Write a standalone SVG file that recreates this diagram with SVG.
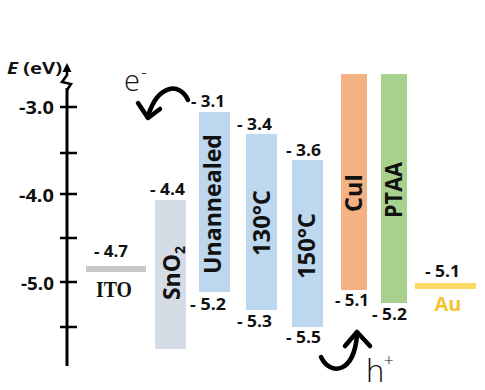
<svg xmlns="http://www.w3.org/2000/svg" width="485" height="390" viewBox="0 0 485 390">
<style>
.val{font-family:"Open Sans","Liberation Sans",sans-serif;font-weight:700;font-size:15.5px;fill:#111}
.ax{font-family:"Open Sans","Liberation Sans",sans-serif;font-weight:700;font-size:17px;fill:#111}
.lbl{font-family:"Open Sans","Liberation Sans",sans-serif;font-weight:700;font-size:23px;fill:#111}
.car{font-family:"Open Sans","Liberation Sans",sans-serif;font-weight:300;fill:#111}
.tick{stroke:#000;stroke-width:2.5}
.arr{fill:none;stroke:#000;stroke-width:4.5;stroke-linecap:round;stroke-linejoin:round}
</style>
<rect width="485" height="390" fill="#fff"/>
<g id="axis">
<line x1="67" y1="88" x2="67" y2="366" stroke="#000" stroke-width="3"/>
<polyline points="67,70 67,75 62,82 71,84 67,90" fill="none" stroke="#000" stroke-width="2.5" stroke-linejoin="miter"/>
<polygon points="67,63 62.5,72 71.5,72" fill="#000"/>
<line class="tick" x1="60" y1="107" x2="77" y2="107"/>
<line class="tick" x1="60" y1="153" x2="77" y2="153"/>
<line class="tick" x1="60" y1="194" x2="77" y2="194"/>
<line class="tick" x1="60" y1="238" x2="77" y2="238"/>
<line class="tick" x1="60" y1="282" x2="77" y2="282"/>
<line class="tick" x1="60" y1="327" x2="77" y2="327"/>
<text class="ax" x="54" y="114" text-anchor="end" textLength="35" lengthAdjust="spacingAndGlyphs">-3.0</text>
<text class="ax" x="54" y="202" text-anchor="end" textLength="35" lengthAdjust="spacingAndGlyphs">-4.0</text>
<text class="ax" x="54" y="290" text-anchor="end" textLength="33" lengthAdjust="spacingAndGlyphs">-5.0</text>
<text x="7" y="74" font-family="'Open Sans','Liberation Sans',sans-serif" font-weight="700" font-size="16" fill="#111" textLength="55" lengthAdjust="spacingAndGlyphs"><tspan font-style="italic">E</tspan> (eV)</text>
</g>
<g id="ITO">
<rect x="86" y="266" width="60" height="6" fill="#c9c9c9"/>
<text class="val" x="94" y="257" textLength="34" lengthAdjust="spacingAndGlyphs">- 4.7</text>
<text x="114" y="297" text-anchor="middle" font-family="'Liberation Serif',serif" font-weight="700" font-size="22.5" fill="#111" textLength="36" lengthAdjust="spacingAndGlyphs">ITO</text>
</g>
<g id="SnO2">
<rect x="155" y="200" width="31" height="149" fill="#d5dce6"/>
<text class="val" x="150" y="195" textLength="35" lengthAdjust="spacingAndGlyphs">- 4.4</text>
<text class="lbl" transform="translate(180,273) rotate(-90)" text-anchor="middle">SnO<tspan font-size="14" dy="5">2</tspan></text>
</g>
<g id="Unannealed">
<rect x="199" y="112" width="31" height="180" fill="#bdd7ee"/>
<text class="val" x="191" y="107" textLength="34" lengthAdjust="spacingAndGlyphs">- 3.1</text>
<text class="val" x="190" y="310" textLength="36" lengthAdjust="spacingAndGlyphs">- 5.2</text>
<text class="lbl" transform="translate(221,204) rotate(-90)" text-anchor="middle" textLength="140" lengthAdjust="spacingAndGlyphs">Unannealed</text>
</g>
<g id="T130">
<rect x="246" y="134" width="31" height="176" fill="#bdd7ee"/>
<text class="val" x="237" y="130" textLength="35" lengthAdjust="spacingAndGlyphs">- 3.4</text>
<text class="val" x="237" y="327" textLength="35" lengthAdjust="spacingAndGlyphs">- 5.3</text>
<text class="lbl" transform="translate(270,223) rotate(-90)" text-anchor="middle" textLength="66" lengthAdjust="spacingAndGlyphs">130°C</text>
</g>
<g id="T150">
<rect x="292" y="160" width="31" height="167" fill="#bdd7ee"/>
<text class="val" x="286" y="156" textLength="35" lengthAdjust="spacingAndGlyphs">- 3.6</text>
<text class="val" x="286" y="343" textLength="35" lengthAdjust="spacingAndGlyphs">- 5.5</text>
<text class="lbl" transform="translate(315,246) rotate(-90)" text-anchor="middle" textLength="66" lengthAdjust="spacingAndGlyphs">150°C</text>
</g>
<g id="CuI">
<rect x="341" y="74" width="26" height="216" fill="#f4b183"/>
<text class="val" x="335" y="306" textLength="34" lengthAdjust="spacingAndGlyphs">- 5.1</text>
<text class="lbl" transform="translate(362,193) rotate(-90)" text-anchor="middle" textLength="38" lengthAdjust="spacingAndGlyphs">CuI</text>
</g>
<g id="PTAA">
<rect x="381" y="74" width="26" height="229" fill="#a9d18e"/>
<text class="val" x="372" y="320" textLength="35" lengthAdjust="spacingAndGlyphs">- 5.2</text>
<text class="lbl" transform="translate(402,190) rotate(-90)" text-anchor="middle" textLength="56" lengthAdjust="spacingAndGlyphs">PTAA</text>
</g>
<g id="Au">
<rect x="415" y="283" width="61" height="6" fill="#ffd966"/>
<text class="val" x="425" y="277" textLength="35" lengthAdjust="spacingAndGlyphs">- 5.1</text>
<text x="448" y="311" text-anchor="middle" font-family="'Open Sans','Liberation Sans',sans-serif" font-weight="700" font-size="20" fill="#f5c330">Au</text>
</g>
<g id="connectors">
<path class="arr" d="M188,100 C180,82 158,84 148,116"/>
<polyline class="arr" points="138,103 148,118 160,109"/>
<path class="arr" d="M321,357 C330,376 354,374 357,335"/>
<polyline class="arr" points="345,346 357,332 370,346"/>
</g>
<g id="carriers">
<text class="car" x="124" y="91" font-size="29">e</text>
<text class="car" x="141" y="79" font-size="18">-</text>
<text class="car" x="366" y="382" font-size="31">h</text>
<text class="car" x="384" y="366" font-size="17">+</text>
</g>
</svg>
